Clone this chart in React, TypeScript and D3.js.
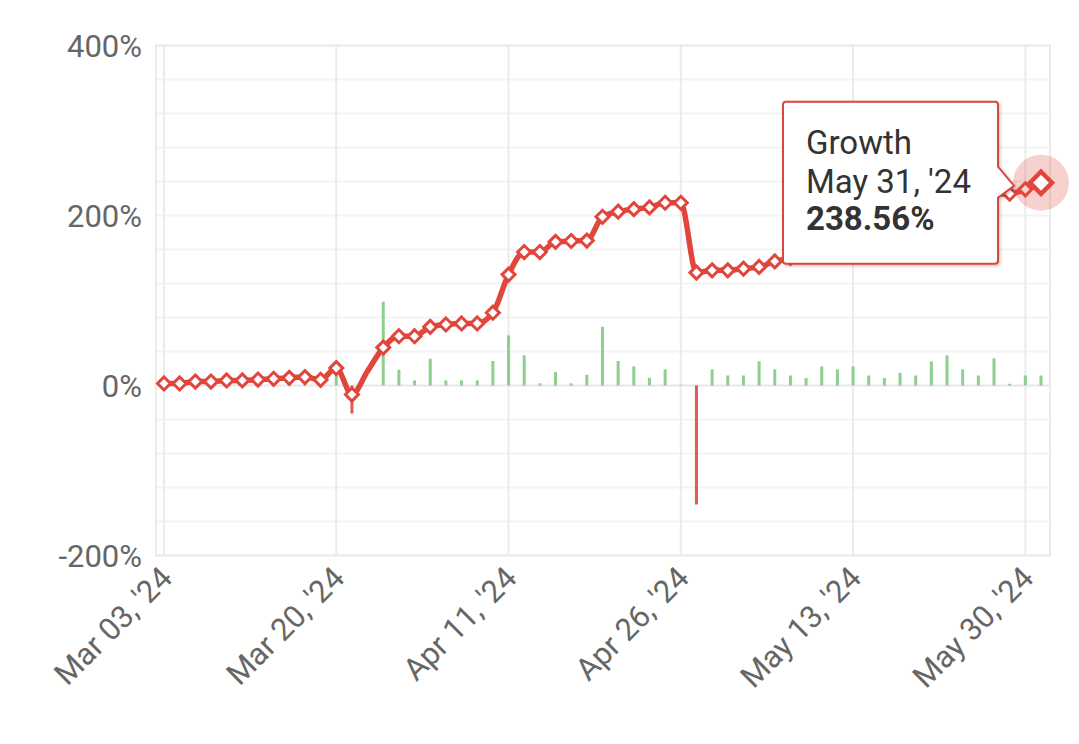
import React from "react";
import * as d3 from "d3";

const growth: number[] = [
  2.4, 2.4, 4.7, 4.7, 5.9, 6, 7, 7.9, 9, 9.9,
  6.7, 20.5, -10.6, 17, 44.6, 58, 58, 69, 71.8, 73,
  73, 85.6, 130.5, 157, 157, 169, 170, 170.5, 198.5, 204.5,
  207.5, 209.5, 215, 215, 132.8, 135.5, 135.5, 137.5, 139.5, 146,
  150, 153, 160, 165, 172, 176, 178, 183, 187, 195,
  206, 212, 215, 225, 225.6, 230.8, 238.56,
];

const dailyChange: number[] = [
  2, 2, 2, 1, 2, 1, 2, 2, 2, 4,
  -2, 12, -33, 0, 98.6, 18.5, 6, 31.5, 6, 6,
  6, 28.8, 59, 35.5, 2.5, 15.8, 2.5, 12.6, 69, 28.8,
  22.5, 9, 19, 1, -140, 19, 11.8, 11.8, 28.4, 19,
  11.8, 8.7, 22.5, 19, 22.5, 11.8, 8.7, 15, 11.8, 28.4,
  35.5, 19, 11.8, 32, 2, 11.8, 11.8,
];

const noMarker: number[] = [13];

const xTickIndex: number[] = [0, 11, 22, 33, 44, 55];
const xTickLabels: string[] = ["Mar 03, '24", "Mar 20, '24", "Apr 11, '24", "Apr 26, '24", "May 13, '24", "May 30, '24"];
const yTicks: number[] = [-200, 0, 200, 400];
const yGridStep = 40;

const tooltipTitle = "Growth";
const tooltipDate = "May 31, '24";
const tooltipValue = "238.56%";

const W = 1079;
const H = 744;
const LEFT = 156;
const RIGHT = 1050;
const TOP = 45.5;
const BOTTOM = 555.5;

const LINE = "#e0463c";
const FONT = "Roboto, 'Noto Sans', sans-serif";

export default function App() {
  const n = growth.length;
  const x = d3.scaleLinear().domain([0, n - 1]).range([164, 1041]);
  const y = d3.scaleLinear().domain([-200, 400]).range([BOTTOM, TOP]);

  const line = d3
    .line<number>()
    .x((_, i) => x(i))
    .y((d) => y(d))
    .curve(d3.curveMonotoneX);

  const gridVals = d3.range(-200, 400 + 1, yGridStep);

  const lastI = n - 1;
  const px = x(lastI);
  const py = y(growth[lastI]);

  const bx0 = px - 258;
  const bx1 = px - 43;
  const by0 = py - 81;
  const by1 = py + 81;
  const r = 3;
  const pTopY = py - 16;
  const pBotY = py + 15;
  const tipX = px - 27;
  const tipY = py + 3;
  const tp = d3.path();
  tp.moveTo(bx0 + r, by0);
  tp.lineTo(bx1 - r, by0);
  tp.quadraticCurveTo(bx1, by0, bx1, by0 + r);
  tp.lineTo(bx1, pTopY);
  tp.lineTo(tipX, tipY);
  tp.lineTo(bx1, pBotY);
  tp.lineTo(bx1, by1 - r);
  tp.quadraticCurveTo(bx1, by1, bx1 - r, by1);
  tp.lineTo(bx0 + r, by1);
  tp.quadraticCurveTo(bx0, by1, bx0, by1 - r);
  tp.lineTo(bx0, by0 + r);
  tp.quadraticCurveTo(bx0, by0, bx0 + r, by0);
  tp.closePath();

  const diamond = (cx: number, cy: number, s: number) =>
    `M${cx},${cy - s}L${cx + s},${cy}L${cx},${cy + s}L${cx - s},${cy}Z`;

  return (
    <svg
      width={W}
      height={H}
      style={{ position: "absolute", left: 0, top: 0, background: "#fff" }}
      fontFamily={FONT}
    >
      <defs>
        <filter id="shadow" x="-10%" y="-10%" width="130%" height="130%">
          <feDropShadow dx="1.5" dy="1.5" stdDeviation="1.5" floodColor="#000" floodOpacity="0.22" />
        </filter>
      </defs>
      {gridVals.map((v) => (
        <line
          key={"h" + v}
          x1={LEFT}
          x2={RIGHT}
          y1={y(v)}
          y2={y(v)}
          stroke={v === 0 ? "#e8e8e8" : "#f3f3f3"}
          strokeWidth={2}
        />
      ))}
      {xTickIndex.map((i) => (
        <line key={"v" + i} x1={x(i)} x2={x(i)} y1={TOP} y2={BOTTOM} stroke="#ebebeb" strokeWidth={2} />
      ))}
      <rect x={LEFT} y={TOP} width={RIGHT - LEFT} height={BOTTOM - TOP} fill="none" stroke="#ebebeb" strokeWidth={2} />

      {yTicks.map((v) => (
        <text key={"yl" + v} x={142} y={y(v)} dy="0.36em" textAnchor="end" fontSize={31} fill="#666">
          {v + "%"}
        </text>
      ))}
      {xTickIndex.map((i, k) => (
        <text
          key={"xl" + i}
          transform={`translate(${x(i) + 10},${580}) rotate(-45)`}
          textAnchor="end"
          fontSize={31}
          fill="#666"
        >
          {xTickLabels[k]}
        </text>
      ))}

      {dailyChange.map((v, i) =>
        v === 0 ? null : (
          <rect
            key={"b" + i}
            x={x(i) - 1.5}
            width={3}
            y={Math.min(y(v), y(0))}
            height={Math.abs(y(v) - y(0))}
            fill={v > 0 ? "#8dd08d" : "#e25b52"}
          />
        )
      )}

      <path d={line(growth) || ""} fill="none" stroke={LINE} strokeWidth={5.5} strokeLinejoin="round" />
      {growth.map((v, i) =>
        noMarker.includes(i) || i === lastI ? null : (
          <path key={"m" + i} d={diamond(x(i), y(v), 6.5)} fill="#fff" stroke={LINE} strokeWidth={3} />
        )
      )}

      <circle cx={px} cy={py} r={28} fill={LINE} fillOpacity={0.25} />
      <path d={diamond(px, py, 11)} fill="#fff" stroke={LINE} strokeWidth={4.5} />

      <path d={tp.toString()} fill="#fff" stroke="#d9463c" strokeWidth={2} filter="url(#shadow)" />
      <text x={bx0 + 23} y={by0 + 52} fontSize={33} fill="#333">
        {tooltipTitle}
      </text>
      <text x={bx0 + 23} y={by0 + 91} fontSize={33} fill="#333">
        {tooltipDate}
      </text>
      <text x={bx0 + 23} y={by0 + 128} fontSize={33} fontWeight="bold" fill="#333">
        {tooltipValue}
      </text>
    </svg>
  );
}
